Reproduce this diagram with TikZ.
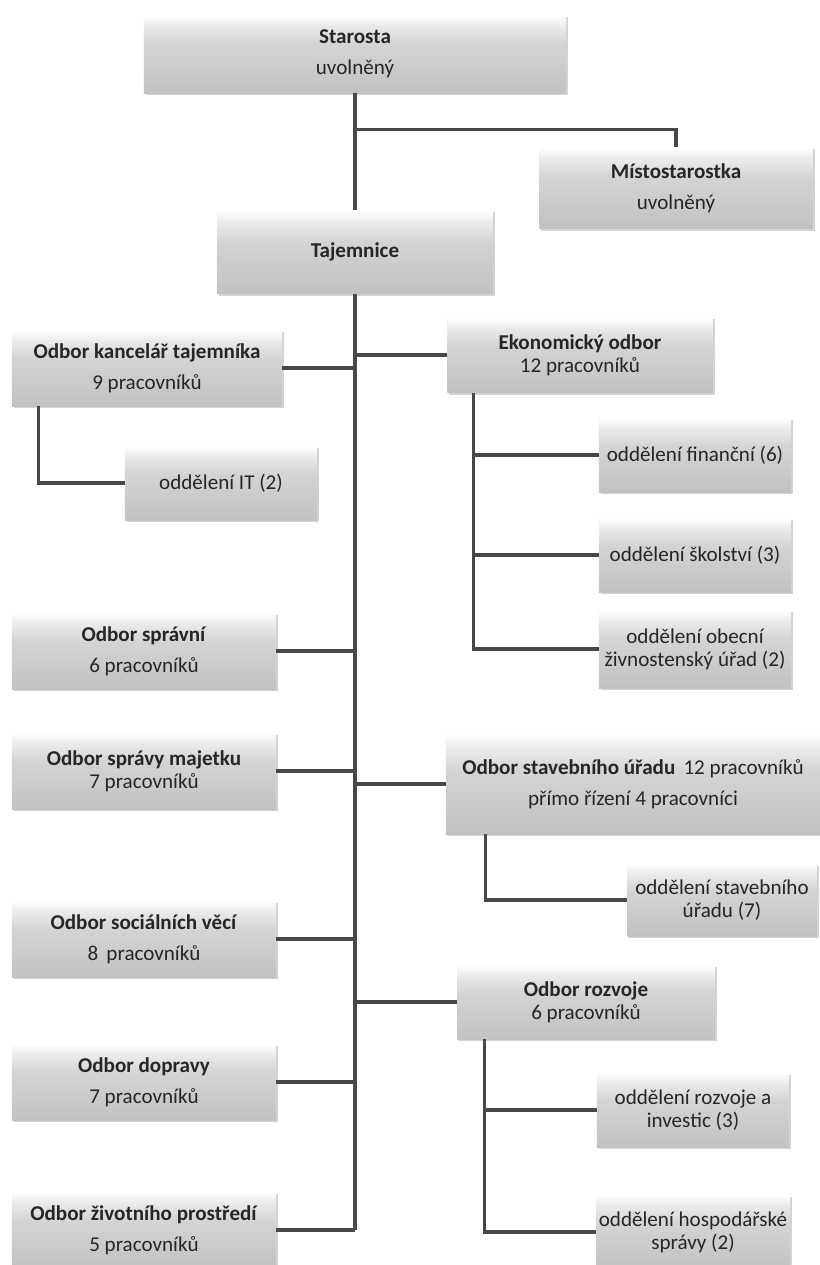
\documentclass[tikz,border=0pt]{standalone}
\usepackage{fontspec}
\setmainfont{Carlito}
\usetikzlibrary{shadows}
\pgfdeclareverticalshading{boxfill}{100bp}{color(0bp)=(gray!48); color(25bp)=(gray!48); color(56bp)=(gray!34); color(68bp)=(gray!16); color(75bp)=(white); color(100bp)=(white)}
\tikzset{orgbox/.style = {shape = rectangle, shading = boxfill, align = center, text = black!85, inner sep = 2pt, font = \fontsize{15}{16.5}\selectfont, drop shadow = {shadow xshift = 1.4pt, shadow yshift = -1.4pt, opacity = 0.35, fill = gray}}}
\tikzset{dept/.style = {orgbox, minimum width = 6.6cm, minimum height = 1.9cm}}
\tikzset{sect/.style = {orgbox, minimum width = 4.8cm, minimum height = 1.85cm}}
\tikzset{link/.style = {-, draw = black!72, line width = 2.2pt}}
\begin{document}
\begin{tikzpicture}[x = 0.025cm, y = -0.025cm]
	\useasboundingbox (0, 0) rectangle (820, 1265);

	\node[orgbox, minimum width = 10.55cm, minimum height = 1.95cm] (star) at (355, 54) {\textbf{Starosta}\\[5.5pt]uvolněný};
	\node[orgbox, minimum width = 6.83cm, minimum height = 2.03cm] (misto) at (676, 188) {\textbf{Místostarostka}\\[5.5pt]uvolněný};
	\node[orgbox, minimum width = 6.9cm, minimum height = 2.08cm] (taj) at (355, 252) {\textbf{Tajemnice}};

	\node[dept, minimum width = 6.75cm] (kanc) at (147, 368) {\textbf{Odbor kancelář tajemníka}\\[5.5pt]9 pracovníků};
	\node[sect] (it) at (221, 483) {oddělení IT (2)};
	\node[dept] (sprav) at (144, 651) {\textbf{Odbor správní}\\[5.5pt]6 pracovníků};
	\node[dept] (majet) at (144, 771) {\textbf{Odbor správy majetku}\\7 pracovníků};
	\node[dept] (soc) at (144, 939) {\textbf{Odbor sociálních věcí}\\[5.5pt]8\, pracovníků};
	\node[dept] (dopr) at (144, 1082) {\textbf{Odbor dopravy}\\[5.5pt]7 pracovníků};
	\node[dept] (ziv) at (144, 1230) {\textbf{Odbor životního prostředí}\\[5.5pt]5 pracovníků};

	\node[dept, minimum width = 6.63cm, minimum height = 1.88cm] (ekon) at (580, 355) {\textbf{Ekonomický odbor}\\12 pracovníků};
	\node[sect] (fin) at (695, 455) {oddělení finanční (6)};
	\node[sect] (skol) at (695, 555) {oddělení školství (3)};
	\node[sect, minimum height = 1.95cm] (obec) at (695, 649) {oddělení obecní\\živnostenský úřad (2)};
	\node[orgbox, minimum width = 9.35cm, minimum height = 2.5cm] (stav) at (633, 784) {\textbf{Odbor stavebního úřadu}\, 12 pracovníků\\[5.5pt]přímo řízení 4 pracovníci};
	\node[sect, minimum width = 4.73cm, minimum height = 1.8cm] (stavodd) at (722, 900) {oddělení stavebního\\úřadu (7)};
	\node[dept, minimum width = 6.43cm, minimum height = 1.85cm] (rozv) at (586, 1002) {\textbf{Odbor rozvoje}\\6 pracovníků};
	\node[sect] (rozvodd) at (693, 1110) {oddělení rozvoje a\\investic (3)};
	\node[sect] (hosp) at (693, 1232) {oddělení hospodářské\\správy (2)};

	\draw[link] (star) to (taj);
	\draw[link] (star.south) ++(0, 36) -| (misto.north);
	\draw[link] (taj.south) to (taj.south |- ziv.east);

	\draw[link] (kanc.east) to (kanc.east -| taj.south);
	\draw[link] (sprav.east) to (sprav.east -| taj.south);
	\draw[link] (majet.east) to (majet.east -| taj.south);
	\draw[link] (soc.east) to (soc.east -| taj.south);
	\draw[link] (dopr.east) to (dopr.east -| taj.south);
	\draw[link] (ziv.east) to (ziv.east -| taj.south);
	\draw[link] (ekon.west) to (ekon.west -| taj.south);
	\draw[link] (stav.west) to (stav.west -| taj.south);
	\draw[link] (rozv.west) to (rozv.west -| taj.south);

	\draw[link] (kanc.south west) ++(27, 0) |- (it.west);
	\draw[link] (ekon.south west) ++(26, 0) |- (fin.west);
	\draw[link] (ekon.south west) ++(26, 0) |- (skol.west);
	\draw[link] (ekon.south west) ++(26, 0) |- (obec.west);
	\draw[link] (stav.south west) ++(40, 0) |- (stavodd.west);
	\draw[link] (rozv.south west) ++(27, 0) |- (rozvodd.west);
	\draw[link] (rozv.south west) ++(27, 0) |- (hosp.west);
\end{tikzpicture}
\end{document}
